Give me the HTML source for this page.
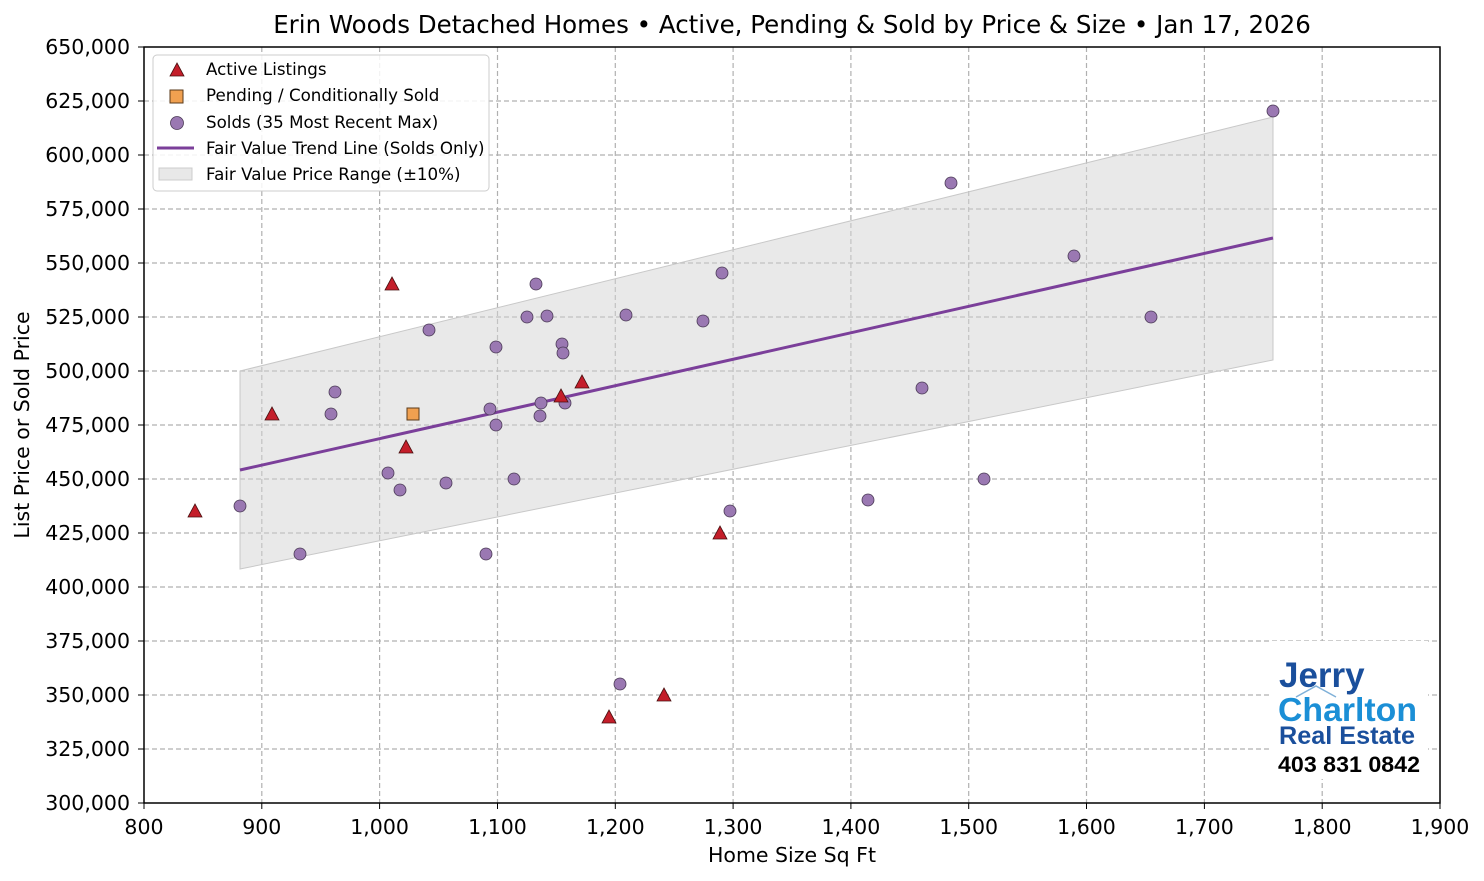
<!DOCTYPE html>
<html><head><meta charset="utf-8"><style>body{margin:0;background:#fff}svg{display:block}text{font-family:"DejaVu Sans","Liberation Sans",sans-serif}.lg{font-family:"Liberation Sans",sans-serif;font-weight:bold}</style></head><body>
<svg width="1484" height="881" viewBox="0 0 1484 881" xmlns="http://www.w3.org/2000/svg">
<rect width="1484" height="881" fill="#fff"/>
<text x="792" y="33" font-size="24.5" text-anchor="middle" fill="#000">Erin Woods Detached Homes • Active, Pending &amp; Sold by Price &amp; Size • Jan 17, 2026</text>
<g stroke="#b0b0b0" stroke-width="1.2" stroke-dasharray="5,3">
<line x1="261.8" y1="47" x2="261.8" y2="803"/><line x1="379.6" y1="47" x2="379.6" y2="803"/><line x1="497.5" y1="47" x2="497.5" y2="803"/><line x1="615.3" y1="47" x2="615.3" y2="803"/><line x1="733.1" y1="47" x2="733.1" y2="803"/><line x1="850.9" y1="47" x2="850.9" y2="803"/><line x1="968.7" y1="47" x2="968.7" y2="803"/><line x1="1086.5" y1="47" x2="1086.5" y2="803"/><line x1="1204.4" y1="47" x2="1204.4" y2="803"/><line x1="1322.2" y1="47" x2="1322.2" y2="803"/>
<line x1="144" y1="101" x2="1440" y2="101"/><line x1="144" y1="155" x2="1440" y2="155"/><line x1="144" y1="209" x2="1440" y2="209"/><line x1="144" y1="263" x2="1440" y2="263"/><line x1="144" y1="317" x2="1440" y2="317"/><line x1="144" y1="371" x2="1440" y2="371"/><line x1="144" y1="425" x2="1440" y2="425"/><line x1="144" y1="479" x2="1440" y2="479"/><line x1="144" y1="533" x2="1440" y2="533"/><line x1="144" y1="587" x2="1440" y2="587"/><line x1="144" y1="641" x2="1440" y2="641"/><line x1="144" y1="695" x2="1440" y2="695"/><line x1="144" y1="749" x2="1440" y2="749"/>
</g>
<polygon points="240,371 1273,117 1273,360 240,569" fill="#d3d3d3" fill-opacity="0.5" stroke="#c8c8c8"/>
<line x1="240" y1="470" x2="1273" y2="238" stroke="#7b3f9a" stroke-width="3"/>
<g fill="#9a78b2" stroke="#4a3a55" stroke-width="0.8">
<circle cx="240" cy="506" r="6"/><circle cx="300" cy="554" r="6"/><circle cx="331" cy="414" r="6"/><circle cx="335" cy="392" r="6"/><circle cx="388" cy="473" r="6"/><circle cx="400" cy="490" r="6"/><circle cx="429" cy="330" r="6"/><circle cx="446" cy="483" r="6"/><circle cx="486" cy="554" r="6"/><circle cx="490" cy="409" r="6"/><circle cx="496" cy="347" r="6"/><circle cx="496" cy="425" r="6"/><circle cx="514" cy="479" r="6"/><circle cx="527" cy="317" r="6"/><circle cx="536" cy="284" r="6"/><circle cx="540" cy="416" r="6"/><circle cx="541" cy="403" r="6"/><circle cx="547" cy="316" r="6"/><circle cx="562" cy="344" r="6"/><circle cx="563" cy="353" r="6"/><circle cx="565" cy="403" r="6"/><circle cx="620" cy="684" r="6"/><circle cx="626" cy="315" r="6"/><circle cx="703" cy="321" r="6"/><circle cx="722" cy="273" r="6"/><circle cx="730" cy="511" r="6"/><circle cx="868" cy="500" r="6"/><circle cx="922" cy="388" r="6"/><circle cx="951" cy="183" r="6"/><circle cx="984" cy="479" r="6"/><circle cx="1074" cy="256" r="6"/><circle cx="1151" cy="317" r="6"/><circle cx="1273" cy="111" r="6"/>
</g>
<rect x="407" y="408" width="12" height="12" fill="#f0a050" stroke="#5a3a1a"/>
<g fill="#c41e2a" stroke="#4a1010" stroke-width="0.8">
<polygon points="195,504 202,517 188,517"/><polygon points="272,407 279,420 265,420"/><polygon points="392,277 399,290 385,290"/><polygon points="406,440 413,453 399,453"/><polygon points="561,389 568,402 554,402"/><polygon points="582,375 589,388 575,388"/><polygon points="609,710 616,723 602,723"/><polygon points="664,688 671,701 657,701"/><polygon points="720,526 727,539 713,539"/>
</g>
<rect x="144" y="47" width="1296" height="756" fill="none" stroke="#000" stroke-width="1.5"/>
<g stroke="#000"><line x1="144" y1="803" x2="144" y2="809"/><line x1="261.8" y1="803" x2="261.8" y2="809"/><line x1="379.6" y1="803" x2="379.6" y2="809"/><line x1="497.5" y1="803" x2="497.5" y2="809"/><line x1="615.3" y1="803" x2="615.3" y2="809"/><line x1="733.1" y1="803" x2="733.1" y2="809"/><line x1="850.9" y1="803" x2="850.9" y2="809"/><line x1="968.7" y1="803" x2="968.7" y2="809"/><line x1="1086.5" y1="803" x2="1086.5" y2="809"/><line x1="1204.4" y1="803" x2="1204.4" y2="809"/><line x1="1322.2" y1="803" x2="1322.2" y2="809"/><line x1="1440" y1="803" x2="1440" y2="809"/></g>
<g font-size="20.5" text-anchor="middle" fill="#000">
<text x="144" y="834">800</text><text x="261.8" y="834">900</text><text x="379.6" y="834">1,000</text><text x="497.5" y="834">1,100</text><text x="615.3" y="834">1,200</text><text x="733.1" y="834">1,300</text><text x="850.9" y="834">1,400</text><text x="968.7" y="834">1,500</text><text x="1086.5" y="834">1,600</text><text x="1204.4" y="834">1,700</text><text x="1322.2" y="834">1,800</text><text x="1440" y="834">1,900</text>
</g>
<g font-size="20.5" text-anchor="end" fill="#000">
<text x="130" y="54">650,000</text><text x="130" y="108">625,000</text><text x="130" y="162">600,000</text><text x="130" y="216">575,000</text><text x="130" y="270">550,000</text><text x="130" y="324">525,000</text><text x="130" y="378">500,000</text><text x="130" y="432">475,000</text><text x="130" y="486">450,000</text><text x="130" y="540">425,000</text><text x="130" y="594">400,000</text><text x="130" y="648">375,000</text><text x="130" y="702">350,000</text><text x="130" y="756">325,000</text><text x="130" y="810">300,000</text>
</g>
<g stroke="#000"><line x1="138" y1="47" x2="144" y2="47"/><line x1="138" y1="101" x2="144" y2="101"/><line x1="138" y1="155" x2="144" y2="155"/><line x1="138" y1="209" x2="144" y2="209"/><line x1="138" y1="263" x2="144" y2="263"/><line x1="138" y1="317" x2="144" y2="317"/><line x1="138" y1="371" x2="144" y2="371"/><line x1="138" y1="425" x2="144" y2="425"/><line x1="138" y1="479" x2="144" y2="479"/><line x1="138" y1="533" x2="144" y2="533"/><line x1="138" y1="587" x2="144" y2="587"/><line x1="138" y1="641" x2="144" y2="641"/><line x1="138" y1="695" x2="144" y2="695"/><line x1="138" y1="749" x2="144" y2="749"/><line x1="138" y1="803" x2="144" y2="803"/></g>
<text x="792" y="862" font-size="20.5" text-anchor="middle">Home Size Sq Ft</text>
<text transform="translate(29,425) rotate(-90)" font-size="20.5" text-anchor="middle">List Price or Sold Price</text>
<rect x="153" y="55" width="336" height="136" rx="4" fill="#fff" fill-opacity="0.85" stroke="#ccc"/>
<polygon points="177,63 184,76 170,76" fill="#c41e2a" stroke="#4a1010" stroke-width="0.8"/>
<rect x="170" y="90" width="13" height="13" fill="#f0a050" stroke="#5a3a1a"/>
<circle cx="177" cy="123" r="6.5" fill="#9a78b2" stroke="#4a3a55" stroke-width="0.8"/>
<line x1="157" y1="148" x2="194" y2="148" stroke="#7b3f9a" stroke-width="3"/>
<rect x="159" y="168" width="33" height="12" fill="#e8e8e8" stroke="#ccc"/>
<g font-size="16.7" fill="#000"><text x="206" y="75">Active Listings</text><text x="206" y="101">Pending / Conditionally Sold</text><text x="206" y="128">Solds (35 Most Recent Max)</text><text x="206" y="154">Fair Value Trend Line (Solds Only)</text><text x="206" y="180">Fair Value Price Range (±10%)</text></g>
<rect x="1271" y="641" width="157" height="138" fill="#fff"/>
<text class="lg" x="1279" y="687" font-size="35" fill="#1a4f9c">Jerry</text>
<polyline points="1296,697 1316,686 1336,697" fill="none" stroke="#7fb0d8" stroke-width="1.5"/>
<text class="lg" x="1278" y="721" font-size="33" fill="#1b8fd6" textLength="139" lengthAdjust="spacingAndGlyphs">Charlton</text>
<text class="lg" x="1279" y="744" font-size="25" fill="#1a4f9c" textLength="136" lengthAdjust="spacingAndGlyphs">Real Estate</text>
<text class="lg" x="1278" y="772" font-size="22" fill="#000" textLength="142" lengthAdjust="spacingAndGlyphs">403 831 0842</text>
</svg>
</body></html>
